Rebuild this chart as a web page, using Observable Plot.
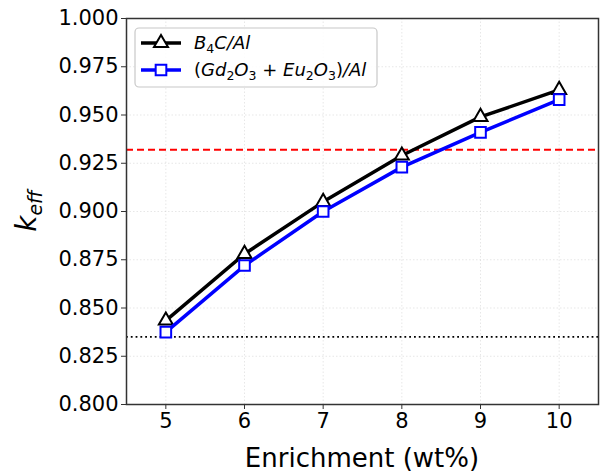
<!DOCTYPE html>
<html><head><meta charset="utf-8">
<script src="https://cdn.jsdelivr.net/npm/d3@7"></script>
<script src="https://cdn.jsdelivr.net/npm/@observablehq/plot@0.6"></script>
<style>
body{margin:0;background:#fff;font-family:"DejaVu Sans",sans-serif}
#chart{position:relative;width:605px;height:472px}
</style>
</head><body><div id="chart"></div>
<script>
const enrichment = [5, 6, 7, 8, 9, 10];
const b4cAl = [0.8435, 0.878, 0.905, 0.929, 0.949, 0.963];
const gdEuAl = [0.8375, 0.872, 0.900, 0.923, 0.941, 0.958];
const redLimit = 0.932;
const blackLimit = 0.835;
const xTicks = [5, 6, 7, 8, 9, 10];
const yTicks = [0.800, 0.825, 0.850, 0.875, 0.900, 0.925, 0.950, 0.975, 1.000];

const b4c = enrichment.map((e, i) => ({x: e, y: b4cAl[i]}));
const gd = enrichment.map((e, i) => ({x: e, y: gdEuAl[i]}));

const W = 605, H = 472, mL = 126, mR = 7, mT = 18, mB = 68;
const triR = 5.2;

const svg = Plot.plot({
  width: W, height: H,
  marginLeft: mL, marginRight: mR, marginTop: mT, marginBottom: mB,
  style: {fontFamily: "DejaVu Sans", background: "white", color: "black"},
  x: {domain: [4.5, 10.5]},
  y: {domain: [0.8, 1.0]},
  marks: [
    Plot.gridX(xTicks, {stroke: "#b0b0b0", strokeOpacity: 0.3, strokeDasharray: "1.5,2"}),
    Plot.gridY(yTicks, {stroke: "#b0b0b0", strokeOpacity: 0.3, strokeDasharray: "1.5,2"}),
    Plot.ruleY([redLimit], {stroke: "#ff0000", strokeWidth: 1.8, strokeDasharray: "7,4"}),
    Plot.ruleY([blackLimit], {stroke: "black", strokeWidth: 1.8, strokeDasharray: "1.8,3"}),
    Plot.line(b4c, {x: "x", y: "y", stroke: "black", strokeWidth: 3.5}),
    Plot.dot(b4c, {x: "x", y: "y", symbol: "triangle", r: triR, fill: "white", stroke: "black", strokeWidth: 2}),
    Plot.line(gd, {x: "x", y: "y", stroke: "#0000ff", strokeWidth: 3.5}),
    Plot.dot(gd, {x: "x", y: "y", symbol: "square", r: 6, fill: "white", stroke: "#0000ff", strokeWidth: 2}),
    Plot.frame({stroke: "#333", strokeWidth: 1.5}),
    Plot.axisX(xTicks, {tickSize: 5, tickPadding: 4, fontSize: 21, label: null, stroke: "#333"}),
    Plot.axisY(yTicks, {tickSize: 5, tickPadding: 3, fontSize: 21, label: null, tickFormat: d3.format(".3f"), stroke: "#333"})
  ]
});
document.getElementById("chart").appendChild(svg);

const s = d3.select(svg);
// x label
s.append("text").attr("x", (mL + W - mR) / 2).attr("y", 467)
  .attr("text-anchor", "middle").attr("font-size", 26).attr("fill", "black")
  .attr("font-family", "DejaVu Sans").text("Enrichment (wt%)");
// y label k_eff
const yl = s.append("text").attr("transform", `translate(36,${(mT + H - mB) / 2}) rotate(-90)`)
  .attr("text-anchor", "middle").attr("font-family", "DejaVu Sans").attr("fill", "black")
  .attr("font-style", "italic");
yl.append("tspan").attr("font-size", 28).text("k");
yl.append("tspan").attr("font-size", 19).attr("dy", 6).text("eff");

// legend
const lg = s.append("g").attr("text-anchor", "start");
lg.append("rect").attr("x", 135).attr("y", 28).attr("width", 242).attr("height", 59)
  .attr("rx", 4).attr("fill", "white").attr("fill-opacity", 0.85).attr("stroke", "#c8c8c8").attr("stroke-width", 1.2);
const rows = [
  {y: 43, color: "black", sym: d3.symbolTriangle, size: Math.PI * triR * triR},
  {y: 70, color: "#0000ff", sym: d3.symbolSquare, size: Math.PI * 36}
];
rows.forEach(r => {
  lg.append("line").attr("x1", 141).attr("x2", 181).attr("y1", r.y).attr("y2", r.y)
    .attr("stroke", r.color).attr("stroke-width", 3.5);
  lg.append("path").attr("d", d3.symbol(r.sym, r.size)()).attr("transform", `translate(161,${r.y})`)
    .attr("fill", "white").attr("stroke", r.color).attr("stroke-width", 2);
});
function addMath(y, parts) {
  const t = lg.append("text").attr("x", 194).attr("y", y + 6).attr("font-size", 18)
    .attr("text-anchor", "start")
    .attr("font-family", "DejaVu Sans").attr("fill", "black");
  parts.forEach(p => {
    const ts = t.append("tspan").text(p.t);
    if (p.i) ts.attr("font-style", "italic");
    if (p.sub) ts.attr("font-size", 12.5).attr("dy", 4);
    if (p.up) ts.attr("dy", -4);
  });
}
addMath(43, [{t: "B", i: 1}, {t: "4", sub: 1}, {t: "C/Al", i: 1, up: 1}]);
addMath(70, [
  {t: "("}, {t: "Gd", i: 1}, {t: "2", sub: 1}, {t: "O", i: 1, up: 1}, {t: "3", sub: 1},
  {t: "\u00a0+\u00a0", up: 1}, {t: "Eu", i: 1}, {t: "2", sub: 1}, {t: "O", i: 1, up: 1}, {t: "3", sub: 1},
  {t: ")", up: 1}, {t: "/Al", i: 1}
]);
</script>
</body></html>
